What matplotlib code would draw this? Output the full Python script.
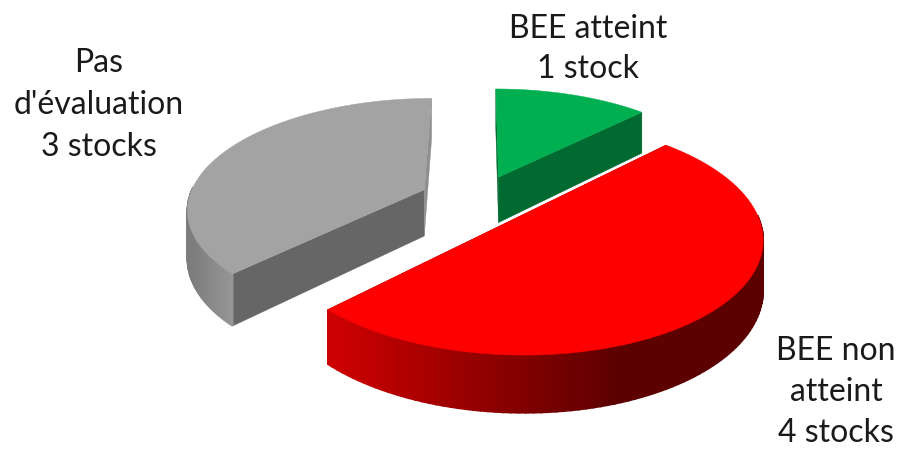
import numpy as np
import matplotlib
matplotlib.use("Agg")
import matplotlib.pyplot as plt
from matplotlib.colors import to_rgb
from matplotlib.patches import Polygon

categories = ["BEE atteint", "BEE non atteint", "Pas d'évaluation"]
stocks = [1, 4, 3]
explode = [0.235, 0.225, 0.25]
top_colors = ["#00b050", "#ff0000", "#a3a3a3"]
side_left = ["#006a30", "#cc0000", "#7c7c7c"]
side_right = ["#006a30", "#5c0000", "#9a9a9a"]
cut_start = ["#006a30", "#900000", "#666666"]
cut_end = ["#006a30", "#900000", "#8f8f8f"]
labels = [
    (588, 49, 1.45, "BEE atteint\n1 stock"),
    (836, 392, 1.45, "BEE non\natteint\n4 stocks"),
    (99, 105, 1.5, "Pas\nd'évaluation\n3 stocks"),
]

CX, CY, A, B, P, H = 478, 200, 236, 109, 0.16, 47

fig = plt.figure(figsize=(9.01, 4.5), dpi=100)
ax = fig.add_axes([0, 0, 1, 1])
ax.set_xlim(0, 901)
ax.set_ylim(450, 0)
ax.axis("off")


def proj(x, y, z=0.0):
    w = 1 / (1 + P * y)
    return CX + A * x * w, CY - B * y * w + H * z * w


def mix(c1, c2, t):
    c1, c2 = np.array(to_rgb(c1)), np.array(to_rgb(c2))
    return tuple(c1 + (c2 - c1) * np.clip(t, 0, 1))


fracs = np.array(stocks) / sum(stocks)
starts = np.concatenate([[0], np.cumsum(fracs)[:-1]]) * 2 * np.pi
ends = np.cumsum(fracs) * 2 * np.pi
ramp = {0: (490, 640), 1: (340, 620), 2: (190, 240)}
for i in [2, 0, 1]:
    a0, a1 = starts[i], ends[i]
    mid = (a0 + a1) / 2
    ox, oy = explode[i] * np.sin(mid), explode[i] * np.cos(mid)
    th = np.linspace(a0, a1, 120)
    xs, ys = ox + np.sin(th), oy + np.cos(th)
    # cut faces
    for a, col in ((a0, cut_start[i]), (a1, cut_end[i])):
        ex, ey = ox + np.sin(a), oy + np.cos(a)
        pts = [proj(ox, oy), proj(ex, ey), proj(ex, ey, 1), proj(ox, oy, 1)]
        ax.add_patch(Polygon(pts, fc=col, ec=col, lw=0.3, zorder=2))
    # outer wall, shaded along the arc
    lo, hi = ramp[i]
    for k in range(len(th) - 1):
        if np.cos((th[k] + th[k + 1]) / 2) > 0.02:
            continue
        t = (proj(xs[k], ys[k])[0] - lo) / (hi - lo)
        c = mix(side_left[i], side_right[i], t)
        pts = [proj(xs[k], ys[k]), proj(xs[k + 1], ys[k + 1]),
               proj(xs[k + 1], ys[k + 1], 1), proj(xs[k], ys[k], 1)]
        ax.add_patch(Polygon(pts, fc=c, ec=c, lw=1.2, zorder=3))
    # top
    pts = [proj(ox, oy)] + [proj(x, y) for x, y in zip(xs, ys)]
    ax.add_patch(Polygon(pts, fc=top_colors[i], ec=top_colors[i], lw=0.3, zorder=4))

for x, y, ls, s in labels:
    ax.text(x, y, s, ha="center", va="center", fontsize=23, family="Lato",
            color="#1a1a1a", linespacing=ls)

fig.savefig("out.png", dpi=100)
